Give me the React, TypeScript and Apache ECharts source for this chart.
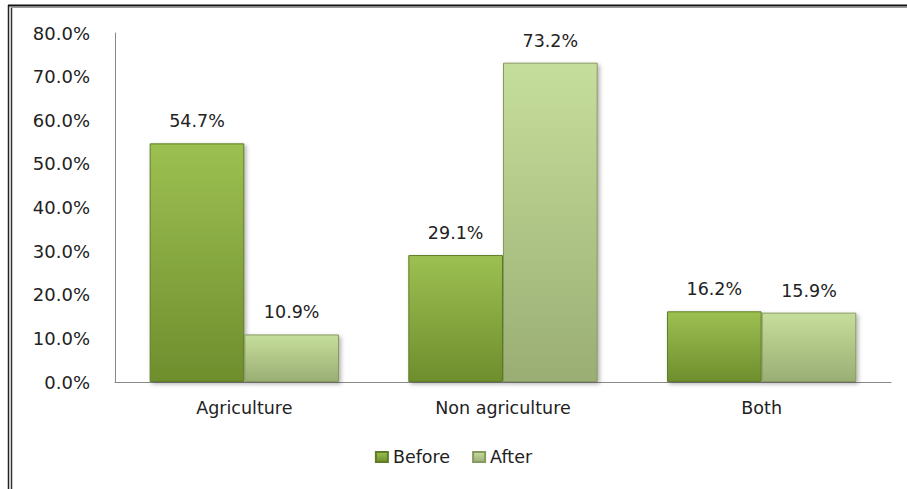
import React, { useEffect, useRef } from "react";
import * as echarts from "echarts";

const categories = ["Agriculture", "Non agriculture", "Both"];
const beforeValues = [54.7, 29.1, 16.2];
const afterValues = [10.9, 73.2, 15.9];
const seriesNames = ["Before", "After"];

const FONT = "DejaVu Sans";

export default function App() {
  const ref = useRef<HTMLDivElement>(null);
  useEffect(() => {
    document.body.style.margin = "0";
    const chart = echarts.init(ref.current!, null, { renderer: "svg" });
    const beforeColor = new echarts.graphic.LinearGradient(0, 0, 0, 1, [
      { offset: 0, color: "#9dc052" },
      { offset: 1, color: "#6e8e2d" },
    ]);
    const afterColor = new echarts.graphic.LinearGradient(0, 0, 0, 1, [
      { offset: 0, color: "#c6de9b" },
      { offset: 1, color: "#9aae74" },
    ]);
    const labelCfg = {
      show: true,
      position: "top",
      distance: 13,
      fontFamily: FONT,
      fontSize: 17.5,
      color: "#222",
      formatter: (p: any) => p.value.toFixed(1) + "%",
    };
    chart.setOption({
      animation: false,
      backgroundColor: "#fff",
      grid: { left: 115, right: 16, top: 33, bottom: 107 },
      legend: {
        bottom: 18,
        left: "center",
        icon: "rect",
        itemWidth: 12,
        itemHeight: 10,
        itemGap: 22,
        textStyle: { fontFamily: FONT, fontSize: 17.5, color: "#222" },
        data: seriesNames,
      },
      xAxis: {
        type: "category",
        data: categories,
        axisLine: { lineStyle: { color: "#888", width: 1 } },
        axisTick: { show: false },
        axisLabel: { fontFamily: FONT, fontSize: 17.5, color: "#222", margin: 17 },
      },
      yAxis: {
        type: "value",
        min: 0,
        max: 80,
        interval: 10,
        axisLine: { show: true, lineStyle: { color: "#888", width: 1 } },
        axisTick: { show: false },
        splitLine: { show: false },
        axisLabel: {
          fontFamily: FONT,
          fontSize: 18,
          color: "#222",
          margin: 25,
          formatter: (v: number) => v.toFixed(1) + "%",
        },
      },
      series: [
        {
          name: seriesNames[0],
          type: "bar",
          data: beforeValues,
          barWidth: "36.6%",
          barGap: "0%",
          itemStyle: {
            color: beforeColor,
            borderColor: "#5f7d25",
            borderWidth: 1,
            shadowBlur: 4,
            shadowOffsetX: 2,
            shadowOffsetY: 2,
            shadowColor: "rgba(0,0,0,0.3)",
          },
          label: labelCfg,
        },
        {
          name: seriesNames[1],
          type: "bar",
          data: afterValues,
          barWidth: "36.6%",
          barGap: "0%",
          itemStyle: {
            color: afterColor,
            borderColor: "#86995f",
            borderWidth: 1,
            shadowBlur: 4,
            shadowOffsetX: 2,
            shadowOffsetY: 2,
            shadowColor: "rgba(0,0,0,0.3)",
          },
          label: labelCfg,
        },
      ],
      graphic: [
        { type: "line", shape: { x1: 8.5, y1: 5, x2: 8.5, y2: 489 }, style: { stroke: "#222", lineWidth: 1.5 } },
        { type: "line", shape: { x1: 11.5, y1: 7, x2: 11.5, y2: 489 }, style: { stroke: "#333", lineWidth: 1.5 } },
        { type: "line", shape: { x1: 8, y1: 5.5, x2: 907, y2: 5.5 }, style: { stroke: "#111", lineWidth: 2 } },
        { type: "line", shape: { x1: 11, y1: 7.5, x2: 907, y2: 7.5 }, style: { stroke: "#999", lineWidth: 1 } },
      ],
    });
    return () => chart.dispose();
  }, []);
  return <div ref={ref} style={{ width: 907, height: 489 }} />;
}
